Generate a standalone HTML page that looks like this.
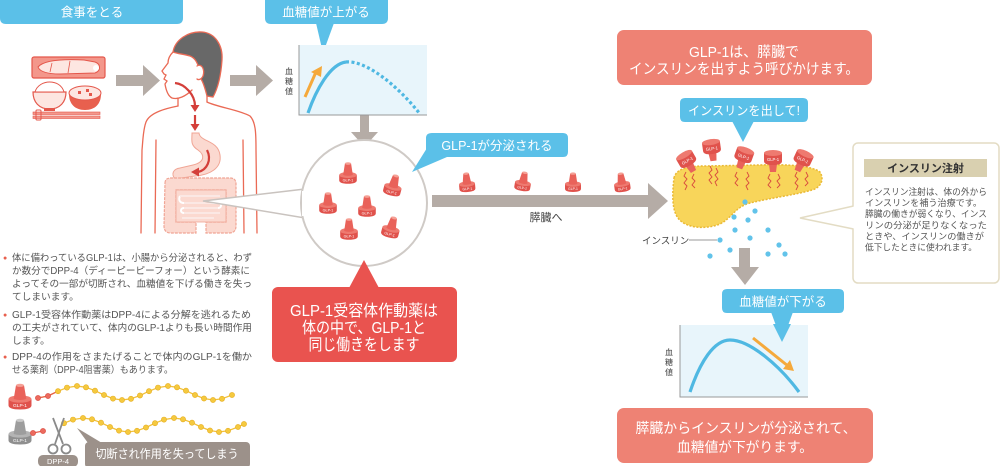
<!DOCTYPE html>
<html><head><meta charset="utf-8"><style>
html,body{margin:0;padding:0;background:#fff;width:1000px;height:466px;overflow:hidden}
svg{display:block}
text{font-family:"Liberation Sans","Noto Sans CJK JP",sans-serif}
</style></head><body>
<svg width="1000" height="466" viewBox="0 0 1000 466" xmlns="http://www.w3.org/2000/svg">
<!-- Tabs -->
<path d="M0,0 H183 V18 Q183,24 177,24 H6 Q0,24 0,18 Z" fill="#5bc0e8"/>
<text x="92" y="16.5" font-size="12.5" fill="#fff" text-anchor="middle">食事をとる</text>
<path d="M265,0 H388 V18 Q388,24 382,24 H271 Q265,24 265,18 Z" fill="#5bc0e8"/>
<polygon points="316,23 334,23 323,53" fill="#5bc0e8"/>
<text x="326" y="16.5" font-size="12.5" fill="#fff" text-anchor="middle">血糖値が上がる</text>

<!-- Food -->
<rect x="32" y="57" width="73" height="21" rx="2" fill="#f3978b" stroke="#e4574b" stroke-width="1.2"/>
<path d="M38,67 C44,60 64,59 84,60 L95,62 C101,64 101,71 95,73 L60,74 C48,74 40,72 38,67 Z" fill="#fde6e1" stroke="#e4574b" stroke-width="1"/>
<path d="M52,63 L50,72 M70,61 L68,73" stroke="#e4574b" stroke-width="0.8"/>
<circle cx="96" cy="68" r="3" fill="#fff"/>
<path d="M33,92 L66,92 C66,102 60,109 49.5,109 C39,109 33,102 33,92 Z" fill="#fde6e1" stroke="#e4574b" stroke-width="1.2"/>
<path d="M35,92 C37,85 44,82 49.5,82 C56,82 62,85 64,92 Z" fill="#fff" stroke="#e4574b" stroke-width="1"/>
<rect x="44" y="108" width="11" height="3" fill="#e4574b"/>
<path d="M69,94 L101,94 C101,104 95,110 85,110 C75,110 69,104 69,94 Z" fill="#e8604e"/>
<ellipse cx="85" cy="93" rx="16" ry="7" fill="#fde6e1" stroke="#e4574b" stroke-width="1"/>
<rect x="78" y="91" width="3" height="3" fill="#e4574b"/><rect x="86" y="89" width="3" height="3" fill="#e4574b"/><rect x="89" y="93" width="3" height="3" fill="#e4574b"/>
<rect x="33" y="112" width="67" height="2.5" fill="#f3978b" stroke="#e4574b" stroke-width="0.6"/>
<rect x="33" y="116" width="67" height="2.5" fill="#f3978b" stroke="#e4574b" stroke-width="0.6"/>
<rect x="36" y="110" width="5" height="10" rx="1" fill="none" stroke="#e4574b" stroke-width="1"/>

<!-- Arrows top -->
<g fill="#b5aca6">
<rect x="116" y="75" width="28" height="11"/><polygon points="143,65 160,80.5 143,96"/>
<rect x="230" y="75" width="27" height="11"/><polygon points="256,65 273,80.5 256,96"/>
<rect x="360" y="107" width="9" height="27"/><polygon points="351,132 378,132 364.5,147"/>
<rect x="432" y="195" width="218" height="12"/><polygon points="648,183 668,201 648,219"/>
<rect x="739" y="248" width="11" height="20"/><polygon points="731,267 759,267 745,285"/>
</g>
<text x="546" y="221" font-size="11" fill="#444" text-anchor="middle">膵臓へ</text>

<!-- Man -->
<g fill="none" stroke="#ea6a55" stroke-width="1.3" stroke-linecap="round">
<path d="M173,52 C175,40 188,31 202,32 C215,33 223,45 222,60 C221,75 218,88 213,97 L207,96 C205,88 203,82 201,79 L199,68 C197,62 195,58 190,56 C184,54 178,54 173,52 Z" fill="#686868"/>
<path d="M197,66 C202,63 205,70 203,76 C201,80 198,80 197,79" fill="#fff"/>
<path d="M173,52 C170,55 168,59 168,63 L162,71 L164,74 L166,75 L164,79 L167,81 L165,84 C166,90 168,96 172,98 C178,100 186,96 192,90"/>
<path d="M178,98 L178,106"/><path d="M207,96 L207,102"/>
<path d="M178,106 C168,108 150,112 146,122 C143,130 143,140 142,150 L141,233"/>
<path d="M207,102 C217,107 240,110 250,116 C256,122 256,135 256,150 L257,233"/>
<path d="M156,140 L155,233"/><path d="M243,140 L244,233"/>
</g>
<path d="M192,133 L199,133 C200,142 218,140 220,155 C222,168 210,175 195,176 L175,179 C171,174 173,169 180,168 L193,165 C205,162 205,155 198,150 C190,145 192,140 192,133 Z" fill="#fbd9d0" stroke="#f0a595" stroke-width="1"/>
<path d="M165,183 Q165,178 171,178 L230,178 Q236,178 236,184 L236,226 Q236,233 229,233 L206,233 L206,222 L226,222 L226,190 L176,190 L176,222 L196,222 L196,233 L171,233 Q164,233 164,226 Z" fill="#fbd9d0" stroke="#f0a595" stroke-width="1.2" stroke-dasharray="3 1"/>
<rect x="176" y="190" width="50" height="32" fill="#fbd9d0" stroke="#f0a595" stroke-width="0.8"/>
<path d="M180,196 H220 M180,196 C178,200 180,203 184,203 H218 C222,203 222,208 218,208 H184 C180,208 180,213 184,213 H220 M182,218 H214" fill="none" stroke="#fff" stroke-width="2"/>
<path d="M180,196 H220 M184,203 H218 M184,208 H218 M184,213 H220 M182,218 H214" fill="none" stroke="#f0a595" stroke-width="0.6"/>
<g fill="none" stroke="#d43f3a" stroke-width="2.2">
<path d="M175,83 C185,84 195,95 195,106"/>
<path d="M195,115 L195,125"/>
<path d="M207,150 C212,160 207,170 198,172"/>
</g>
<g fill="#d43f3a">
<polygon points="190.5,105 199.5,105 195,112"/>
<polygon points="190.5,124 199.5,124 195,131"/>
<polygon points="199,167.5 199,176.5 191,172"/>
</g>

<!-- Callout wedge + circle -->
<polygon points="203,201 305,189 305,218" fill="#fff" stroke="#c9c3bf" stroke-width="1.5"/>
<circle cx="364" cy="203" r="63" fill="#fff" stroke="#cfcac6" stroke-width="2"/>
<polygon points="302,191 302,216 310,216 310,191" fill="#fff"/>

<!-- Graph 1 -->
<rect x="299" y="45" width="128" height="70" fill="#e8f5fb"/>
<path d="M299,45 V115 H427" fill="none" stroke="#999" stroke-width="1"/>
<path d="M308,113 C316,90 330,64 346,62" fill="none" stroke="#4fb8e2" stroke-width="3.2"/>
<path d="M346,62 C366,60 398,86 420,114" fill="none" stroke="#4fb8e2" stroke-width="3.2" stroke-dasharray="3 2.5"/>
<path d="M305,97 L316,72" stroke="#f5a93b" stroke-width="3"/>
<polygon points="311,72 322,66 321,77" fill="#f5a93b"/>
<text font-size="8" fill="#444" text-anchor="middle"><tspan x="289" y="74">血</tspan><tspan x="289" y="84">糖</tspan><tspan x="289" y="94">値</tspan></text>

<!-- GLP-1 tab -->
<polygon points="427,148 447,157 412,172" fill="#5bc0e8"/>
<path d="M432,133 H563 Q568,133 568,138 V152 Q568,157 563,157 H432 Q426,157 426,152 V138 Q426,133 432,133 Z" fill="#5bc0e8"/>
<text x="497" y="150" font-size="12.5" fill="#fff" text-anchor="middle">GLP-1が分泌される</text>

<!-- Pills in circle -->
<g transform="translate(348,175) scale(0.88)"><path d="M-10,0 L-10,6 Q-10,10 0,10 Q10,10 10,6 L10,0 Z" fill="#e0524c"/><ellipse cx="0" cy="0" rx="10" ry="3.5" fill="#ee7a70"/><path d="M-5.5,0 L-3.5,-13 L3.5,-13 L5.5,0 Q0,2 -5.5,0 Z" fill="#e9625a"/><ellipse cx="0" cy="-13" rx="3.5" ry="1.5" fill="#f5a095"/><text x="0" y="7.5" font-size="4.2" fill="#fff" text-anchor="middle">GLP-1</text></g>
<g transform="translate(393,187) rotate(15) scale(0.88)"><path d="M-10,0 L-10,6 Q-10,10 0,10 Q10,10 10,6 L10,0 Z" fill="#e0524c"/><ellipse cx="0" cy="0" rx="10" ry="3.5" fill="#ee7a70"/><path d="M-5.5,0 L-3.5,-13 L3.5,-13 L5.5,0 Q0,2 -5.5,0 Z" fill="#e9625a"/><ellipse cx="0" cy="-13" rx="3.5" ry="1.5" fill="#f5a095"/><text x="0" y="7.5" font-size="4.2" fill="#fff" text-anchor="middle">GLP-1</text></g>
<g transform="translate(328,205) scale(0.88)"><path d="M-10,0 L-10,6 Q-10,10 0,10 Q10,10 10,6 L10,0 Z" fill="#e0524c"/><ellipse cx="0" cy="0" rx="10" ry="3.5" fill="#ee7a70"/><path d="M-5.5,0 L-3.5,-13 L3.5,-13 L5.5,0 Q0,2 -5.5,0 Z" fill="#e9625a"/><ellipse cx="0" cy="-13" rx="3.5" ry="1.5" fill="#f5a095"/><text x="0" y="7.5" font-size="4.2" fill="#fff" text-anchor="middle">GLP-1</text></g>
<g transform="translate(367,208) scale(0.88)"><path d="M-10,0 L-10,6 Q-10,10 0,10 Q10,10 10,6 L10,0 Z" fill="#e0524c"/><ellipse cx="0" cy="0" rx="10" ry="3.5" fill="#ee7a70"/><path d="M-5.5,0 L-3.5,-13 L3.5,-13 L5.5,0 Q0,2 -5.5,0 Z" fill="#e9625a"/><ellipse cx="0" cy="-13" rx="3.5" ry="1.5" fill="#f5a095"/><text x="0" y="7.5" font-size="4.2" fill="#fff" text-anchor="middle">GLP-1</text></g>
<g transform="translate(349,231) scale(0.88)"><path d="M-10,0 L-10,6 Q-10,10 0,10 Q10,10 10,6 L10,0 Z" fill="#e0524c"/><ellipse cx="0" cy="0" rx="10" ry="3.5" fill="#ee7a70"/><path d="M-5.5,0 L-3.5,-13 L3.5,-13 L5.5,0 Q0,2 -5.5,0 Z" fill="#e9625a"/><ellipse cx="0" cy="-13" rx="3.5" ry="1.5" fill="#f5a095"/><text x="0" y="7.5" font-size="4.2" fill="#fff" text-anchor="middle">GLP-1</text></g>
<g transform="translate(391,229) rotate(15) scale(0.88)"><path d="M-10,0 L-10,6 Q-10,10 0,10 Q10,10 10,6 L10,0 Z" fill="#e0524c"/><ellipse cx="0" cy="0" rx="10" ry="3.5" fill="#ee7a70"/><path d="M-5.5,0 L-3.5,-13 L3.5,-13 L5.5,0 Q0,2 -5.5,0 Z" fill="#e9625a"/><ellipse cx="0" cy="-13" rx="3.5" ry="1.5" fill="#f5a095"/><text x="0" y="7.5" font-size="4.2" fill="#fff" text-anchor="middle">GLP-1</text></g>

<!-- Pills along arrow -->
<g transform="translate(467,184) rotate(-5) scale(0.8)"><path d="M-10,0 L-10,6 Q-10,10 0,10 Q10,10 10,6 L10,0 Z" fill="#e0524c"/><ellipse cx="0" cy="0" rx="10" ry="3.5" fill="#ee7a70"/><path d="M-5.5,0 L-3.5,-13 L3.5,-13 L5.5,0 Q0,2 -5.5,0 Z" fill="#e9625a"/><ellipse cx="0" cy="-13" rx="3.5" ry="1.5" fill="#f5a095"/><text x="0" y="7.5" font-size="4.2" fill="#fff" text-anchor="middle">GLP-1</text></g>
<g transform="translate(523,183) rotate(10) scale(0.8)"><path d="M-10,0 L-10,6 Q-10,10 0,10 Q10,10 10,6 L10,0 Z" fill="#e0524c"/><ellipse cx="0" cy="0" rx="10" ry="3.5" fill="#ee7a70"/><path d="M-5.5,0 L-3.5,-13 L3.5,-13 L5.5,0 Q0,2 -5.5,0 Z" fill="#e9625a"/><ellipse cx="0" cy="-13" rx="3.5" ry="1.5" fill="#f5a095"/><text x="0" y="7.5" font-size="4.2" fill="#fff" text-anchor="middle">GLP-1</text></g>
<g transform="translate(573,184) scale(0.8)"><path d="M-10,0 L-10,6 Q-10,10 0,10 Q10,10 10,6 L10,0 Z" fill="#e0524c"/><ellipse cx="0" cy="0" rx="10" ry="3.5" fill="#ee7a70"/><path d="M-5.5,0 L-3.5,-13 L3.5,-13 L5.5,0 Q0,2 -5.5,0 Z" fill="#e9625a"/><ellipse cx="0" cy="-13" rx="3.5" ry="1.5" fill="#f5a095"/><text x="0" y="7.5" font-size="4.2" fill="#fff" text-anchor="middle">GLP-1</text></g>
<g transform="translate(622,184) rotate(-8) scale(0.8)"><path d="M-10,0 L-10,6 Q-10,10 0,10 Q10,10 10,6 L10,0 Z" fill="#e0524c"/><ellipse cx="0" cy="0" rx="10" ry="3.5" fill="#ee7a70"/><path d="M-5.5,0 L-3.5,-13 L3.5,-13 L5.5,0 Q0,2 -5.5,0 Z" fill="#e9625a"/><ellipse cx="0" cy="-13" rx="3.5" ry="1.5" fill="#f5a095"/><text x="0" y="7.5" font-size="4.2" fill="#fff" text-anchor="middle">GLP-1</text></g>

<!-- Red callout -->
<polygon points="349,288 379,288 364,260" fill="#e9534f"/>
<rect x="272" y="287" width="185" height="75" rx="6" fill="#e9534f"/>
<g font-size="16" fill="#fff" text-anchor="middle">
<text x="364" y="316" textLength="148" lengthAdjust="spacingAndGlyphs">GLP-1受容体作動薬は</text>
<text x="364" y="333" textLength="124" lengthAdjust="spacingAndGlyphs">体の中で、GLP-1と</text>
<text x="364" y="350" textLength="111" lengthAdjust="spacingAndGlyphs">同じ働きをします</text>
</g>

<!-- Left bullet text -->
<g font-size="9.7" fill="#555">
<text x="3" y="260" font-size="7" fill="#e8604e">●</text>
<text x="12" y="261" textLength="240" lengthAdjust="spacingAndGlyphs">体に備わっているGLP-1は、小腸から分泌されると、わず</text>
<text x="12" y="274" textLength="238" lengthAdjust="spacingAndGlyphs">か数分でDPP-4（ディーピーピーフォー）という酵素に</text>
<text x="12" y="287" textLength="240" lengthAdjust="spacingAndGlyphs">よってその一部が切断され、血糖値を下げる働きを失っ</text>
<text x="12" y="300">てしまいます。</text>
<text x="3" y="317" font-size="7" fill="#e8604e">●</text>
<text x="12" y="318" textLength="239" lengthAdjust="spacingAndGlyphs">GLP-1受容体作動薬はDPP-4による分解を逃れるため</text>
<text x="12" y="331" textLength="240" lengthAdjust="spacingAndGlyphs">の工夫がされていて、体内のGLP-1よりも長い時間作用</text>
<text x="12" y="344">します。</text>
<text x="3" y="359" font-size="7" fill="#e8604e">●</text>
<text x="12" y="360" textLength="240" lengthAdjust="spacingAndGlyphs">DPP-4の作用をさまたげることで体内のGLP-1を働か</text>
<text x="12" y="373" textLength="161" lengthAdjust="spacingAndGlyphs">せる薬剤（DPP-4阻害薬）もあります。</text>
</g>

<!-- DPP-4 illustration -->
<g transform="translate(20,399) scale(1.15,1.05)"><path d="M-10,0 L-10,6 Q-10,10 0,10 Q10,10 10,6 L10,0 Z" fill="#e0524c"/><ellipse cx="0" cy="0" rx="10" ry="3.5" fill="#ee7a70"/><path d="M-5.5,0 L-3.5,-13 L3.5,-13 L5.5,0 Q0,2 -5.5,0 Z" fill="#e9625a"/><ellipse cx="0" cy="-13" rx="3.5" ry="1.5" fill="#f5a095"/><text x="0" y="7.5" font-size="4.2" fill="#fff" text-anchor="middle">GLP-1</text></g>
<g transform="translate(20,434) scale(1.15,1.05)"><path d="M-10,0 L-10,6 Q-10,10 0,10 Q10,10 10,6 L10,0 Z" fill="#8f8f8f"/><ellipse cx="0" cy="0" rx="10" ry="3.5" fill="#b4b4b4"/><path d="M-5.5,0 L-3.5,-13 L3.5,-13 L5.5,0 Q0,2 -5.5,0 Z" fill="#9d9d9d"/><ellipse cx="0" cy="-13" rx="3.5" ry="1.5" fill="#cacaca"/><text x="0" y="7.5" font-size="4.2" fill="#fff" text-anchor="middle">GLP-1</text></g>
<polyline points="38,398 48,396 58,391.2 67,387.6 77,386 86,387.3 95,390.7 104,395 113,398.6 122,400 131,398.8 140,395.5 149,391.2 158,387.6 168,386 177,387.3 186,390.7 195,395 204,398.5 213,400 222,398.8 232,395" fill="none" stroke="#f2c13a" stroke-width="1.3"/>
<path d="M38,398 L48,396 L58,391.2" stroke="#e8604e" stroke-width="1.3" fill="none"/>
<g fill="#f5c93e" stroke="#e6ae22" stroke-width="0.6">
<circle cx="58" cy="391.2" r="2.6"/><circle cx="67" cy="387.6" r="2.6"/><circle cx="77" cy="386" r="2.6"/><circle cx="86" cy="387.3" r="2.6"/><circle cx="95" cy="390.7" r="2.6"/><circle cx="104" cy="395" r="2.6"/><circle cx="113" cy="398.6" r="2.6"/><circle cx="122" cy="400" r="2.6"/><circle cx="131" cy="398.8" r="2.6"/><circle cx="140" cy="395.5" r="2.6"/><circle cx="149" cy="391.2" r="2.6"/><circle cx="158" cy="387.6" r="2.6"/><circle cx="168" cy="386" r="2.6"/><circle cx="177" cy="387.3" r="2.6"/><circle cx="186" cy="390.7" r="2.6"/><circle cx="195" cy="395" r="2.6"/><circle cx="204" cy="398.5" r="2.6"/><circle cx="213" cy="400" r="2.6"/><circle cx="222" cy="398.8" r="2.6"/><circle cx="232" cy="395" r="2.6"/>
</g>
<circle cx="38" cy="398" r="2.6" fill="#ec6a5e" stroke="#d8493e" stroke-width="0.6"/><circle cx="48" cy="396" r="2.6" fill="#ec6a5e" stroke="#d8493e" stroke-width="0.6"/>
<polyline points="64,423.2 73,419.6 83,418 92,419.3 101,422.7 110,427 119,430.6 128,432 137,430.8 146,427.5 155,423.2 164,419.6 174,418 183,419.3 192,422.7 201,427 210,430.5 219,432 228,430.8 238,427 244,424" fill="none" stroke="#f2c13a" stroke-width="1.3"/>
<path d="M33,433 L43,431" stroke="#e8604e" stroke-width="1.3"/>
<g fill="#f5c93e" stroke="#e6ae22" stroke-width="0.6">
<circle cx="64" cy="423.2" r="2.6"/><circle cx="73" cy="419.6" r="2.6"/><circle cx="83" cy="418" r="2.6"/><circle cx="92" cy="419.3" r="2.6"/><circle cx="101" cy="422.7" r="2.6"/><circle cx="110" cy="427" r="2.6"/><circle cx="119" cy="430.6" r="2.6"/><circle cx="128" cy="432" r="2.6"/><circle cx="137" cy="430.8" r="2.6"/><circle cx="146" cy="427.5" r="2.6"/><circle cx="155" cy="423.2" r="2.6"/><circle cx="164" cy="419.6" r="2.6"/><circle cx="174" cy="418" r="2.6"/><circle cx="183" cy="419.3" r="2.6"/><circle cx="192" cy="422.7" r="2.6"/><circle cx="201" cy="427" r="2.6"/><circle cx="210" cy="430.5" r="2.6"/><circle cx="219" cy="432" r="2.6"/><circle cx="228" cy="430.8" r="2.6"/><circle cx="238" cy="427" r="2.6"/><circle cx="244" cy="424" r="2.6"/>
</g>
<circle cx="33" cy="433" r="2.6" fill="#ec6a5e" stroke="#d8493e" stroke-width="0.6"/><circle cx="43" cy="431" r="2.6" fill="#ec6a5e" stroke="#d8493e" stroke-width="0.6"/>
<!-- scissors -->
<g fill="none" stroke="#8a8a8a" stroke-width="1.8">
<path d="M53,418 L63,444"/><path d="M64,418 L55,444"/>
<circle cx="53" cy="449" r="4.5"/><circle cx="66" cy="449" r="4.5"/>
</g>
<rect x="38" y="455" width="40" height="12" rx="5" fill="#9c918a"/>
<text x="58" y="464" font-size="7.5" fill="#fff" text-anchor="middle">DPP-4</text>
<polygon points="77,428 88,443 102,443" fill="#9c918a"/>
<rect x="85" y="442" width="165" height="26" rx="4" fill="#9c918a"/>
<text x="167" y="458" font-size="12" fill="#fff" text-anchor="middle" textLength="143" lengthAdjust="spacingAndGlyphs">切断され作用を失ってしまう</text>

<!-- Top salmon box -->
<rect x="617" y="30" width="255" height="55" rx="7" fill="#ee8274"/>
<g font-size="14.5" fill="#fff" text-anchor="middle">
<text x="744" y="57" textLength="110" lengthAdjust="spacingAndGlyphs">GLP-1は、膵臓で</text>
<text x="744" y="74" textLength="230" lengthAdjust="spacingAndGlyphs">インスリンを出すよう呼びかけます。</text>
</g>

<!-- insulin tab -->
<path d="M685,98 H803 Q808,98 808,103 V117 Q808,122 803,122 H685 Q680,122 680,117 V103 Q680,98 685,98 Z" fill="#5bc0e8"/>
<polygon points="732,121 754,121 743,142" fill="#5bc0e8"/>
<text x="744" y="115" font-size="12.5" fill="#fff" text-anchor="middle" textLength="112" lengthAdjust="spacingAndGlyphs">インスリンを出して!</text>

<!-- Pancreas -->
<path d="M674,178 C676,168 690,166 705,166 L760,165 C790,164 812,166 820,172 C825,180 820,188 812,190 C795,195 770,198 750,203 C735,207 732,218 720,224 C705,230 685,228 678,218 C672,210 672,195 674,178 Z" fill="#f8d55a" stroke="#eab934" stroke-width="1.5" stroke-dasharray="2 1.5"/>
<g fill="none" stroke="#d84a3e" stroke-width="0.9">
<path d="M686,172 l-2,4 l3,3 l-3,4 l3,3 l-2,4"/><path d="M694,174 l-2,4 l3,3 l-3,4 l3,3"/>
<path d="M710,166 l2,4 l-3,3 l3,4 l-3,3 l3,4"/><path d="M716,168 l2,4 l-3,3 l3,4 l-3,3 l2,4"/>
<path d="M737,172 l-2,4 l3,3 l-3,4 l3,3"/><path d="M747,172 l2,4 l-3,3 l3,4 l-3,3 l2,4"/>
<path d="M770,174 l-2,4 l3,3 l-3,4 l3,3"/><path d="M778,174 l2,4 l-3,3 l3,4 l-3,3"/>
<path d="M797,172 l-2,4 l3,3 l-3,4 l3,3 l-2,4"/><path d="M806,172 l2,4 l-3,3 l3,4 l-3,3"/>
</g>
<!-- receptors (wide cap on top) -->
<g transform="translate(688,162) rotate(-30)"><path d="M-4,3 L-3,11 L3,11 L4,3 Z" fill="#e9625a"/><path d="M-9,-8 L-9,0 Q-9,4 0,4 Q9,4 9,0 L9,-8 Z" fill="#e0524c"/><ellipse cx="0" cy="-8" rx="9" ry="3" fill="#ee7a70"/><text x="0" y="0" font-size="4.2" fill="#fff" text-anchor="middle">GLP-1</text></g>
<g transform="translate(712,150) rotate(-8)"><path d="M-4,3 L-3,11 L3,11 L4,3 Z" fill="#e9625a"/><path d="M-9,-8 L-9,0 Q-9,4 0,4 Q9,4 9,0 L9,-8 Z" fill="#e0524c"/><ellipse cx="0" cy="-8" rx="9" ry="3" fill="#ee7a70"/><text x="0" y="0" font-size="4.2" fill="#fff" text-anchor="middle">GLP-1</text></g>
<g transform="translate(743,158) rotate(20)"><path d="M-4,3 L-3,11 L3,11 L4,3 Z" fill="#e9625a"/><path d="M-9,-8 L-9,0 Q-9,4 0,4 Q9,4 9,0 L9,-8 Z" fill="#e0524c"/><ellipse cx="0" cy="-8" rx="9" ry="3" fill="#ee7a70"/><text x="0" y="0" font-size="4.2" fill="#fff" text-anchor="middle">GLP-1</text></g>
<g transform="translate(773,161) rotate(0)"><path d="M-4,3 L-3,11 L3,11 L4,3 Z" fill="#e9625a"/><path d="M-9,-8 L-9,0 Q-9,4 0,4 Q9,4 9,0 L9,-8 Z" fill="#e0524c"/><ellipse cx="0" cy="-8" rx="9" ry="3" fill="#ee7a70"/><text x="0" y="0" font-size="4.2" fill="#fff" text-anchor="middle">GLP-1</text></g>
<g transform="translate(802,161) rotate(25)"><path d="M-4,3 L-3,11 L3,11 L4,3 Z" fill="#e9625a"/><path d="M-9,-8 L-9,0 Q-9,4 0,4 Q9,4 9,0 L9,-8 Z" fill="#e0524c"/><ellipse cx="0" cy="-8" rx="9" ry="3" fill="#ee7a70"/><text x="0" y="0" font-size="4.2" fill="#fff" text-anchor="middle">GLP-1</text></g>

<!-- insulin dots -->
<g fill="#62c3ea">
<circle cx="745" cy="202" r="2.6"/><circle cx="755" cy="211" r="2.6"/><circle cx="734" cy="217" r="2.6"/><circle cx="748" cy="220" r="2.6"/><circle cx="735" cy="230" r="2.6"/><circle cx="768" cy="230" r="2.6"/><circle cx="720" cy="240" r="2.6"/><circle cx="750" cy="238" r="2.6"/><circle cx="779" cy="245" r="2.6"/><circle cx="730" cy="250" r="2.6"/><circle cx="710" cy="256" r="2.6"/><circle cx="768" cy="254" r="2.6"/><circle cx="785" cy="254" r="2.6"/>
</g>
<text x="642" y="244" font-size="9.5" fill="#444">インスリン</text>
<path d="M689,240 H717" stroke="#999" stroke-width="1"/>

<!-- Insulin injection box -->
<rect x="853" y="143" width="146" height="140" rx="5" fill="#fff" stroke="#e3dcc4" stroke-width="1.5"/>
<polygon points="800,218 855,206 855,229" fill="#fff"/>
<polyline points="853.5,206 800,218 853.5,229" fill="none" stroke="#e3dcc4" stroke-width="1.5"/>
<rect x="864" y="159" width="123" height="18" fill="#d9d0b0"/>
<text x="925.5" y="172" font-size="11" font-weight="bold" fill="#333" text-anchor="middle">インスリン注射</text>
<g font-size="9" fill="#555">
<text x="865" y="195" textLength="122" lengthAdjust="spacingAndGlyphs">インスリン注射は、体の外から</text>
<text x="865" y="206" textLength="117" lengthAdjust="spacingAndGlyphs">インスリンを補う治療です。</text>
<text x="865" y="217" textLength="122" lengthAdjust="spacingAndGlyphs">膵臓の働きが弱くなり、インス</text>
<text x="865" y="228.5" textLength="122" lengthAdjust="spacingAndGlyphs">リンの分泌が足りなくなった</text>
<text x="865" y="239.5" textLength="119" lengthAdjust="spacingAndGlyphs">ときや、インスリンの働きが</text>
<text x="865" y="250.5" textLength="112" lengthAdjust="spacingAndGlyphs">低下したときに使われます。</text>
</g>

<!-- 血糖値が下がる tab -->
<path d="M727,289 H839 Q844,289 844,294 V308 Q844,313 839,313 H727 Q722,313 722,308 V294 Q722,289 727,289 Z" fill="#5bc0e8"/>
<polygon points="771,312 793,312 782,342" fill="#5bc0e8"/>
<text x="783" y="306" font-size="12.5" fill="#fff" text-anchor="middle">血糖値が下がる</text>

<!-- Graph 2 -->
<rect x="680" y="325" width="128" height="72" fill="#e8f5fb"/>
<polygon points="773,324 791,324 782,342" fill="#5bc0e8"/>
<path d="M680,325 V397 H808" fill="none" stroke="#999" stroke-width="1"/>
<path d="M690,392 C700,362 714,340 730,340 C750,340 780,366 799,392" fill="none" stroke="#4fb8e2" stroke-width="3.2"/>
<path d="M753,338 L788,366" stroke="#f5a93b" stroke-width="3"/>
<polygon points="783,369 794,371 790,360" fill="#f5a93b"/>
<text font-size="8" fill="#444" text-anchor="middle"><tspan x="669" y="355">血</tspan><tspan x="669" y="365">糖</tspan><tspan x="669" y="375">値</tspan></text>

<!-- Bottom salmon -->
<rect x="617" y="408" width="256" height="55" rx="7" fill="#ee8274"/>
<g font-size="14" fill="#fff" text-anchor="middle">
<text x="746" y="433" textLength="221" lengthAdjust="spacingAndGlyphs">膵臓からインスリンが分泌されて、</text>
<text x="745" y="452" textLength="136" lengthAdjust="spacingAndGlyphs">血糖値が下がります。</text>
</g>
</svg>
</body></html>
